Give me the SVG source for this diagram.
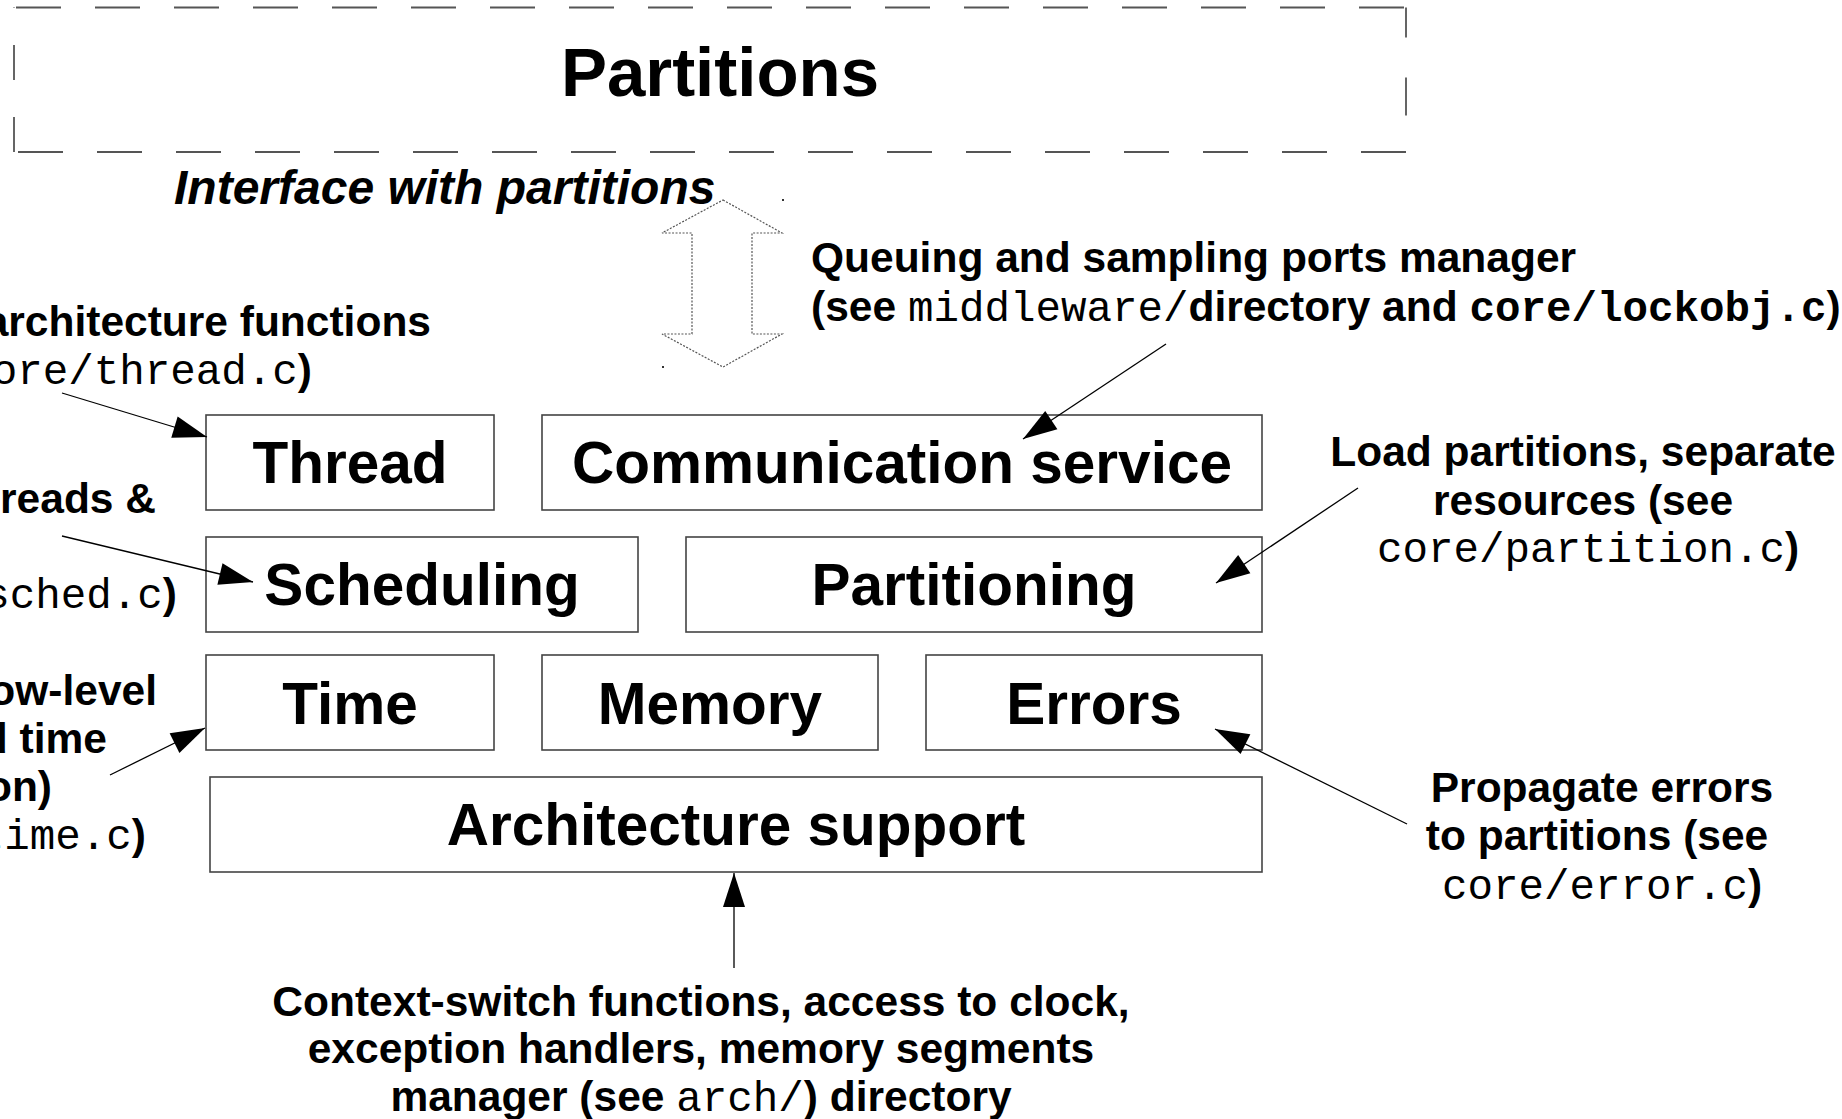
<svg xmlns="http://www.w3.org/2000/svg" width="1842" height="1119" viewBox="0 0 1842 1119">
  <style>
    .box { fill: #ffffff; stroke: #444444; stroke-width: 1.6; }
    .lbl { font-family: "Liberation Sans", Arial, sans-serif; font-weight: bold; font-size: 58.5px; fill: #000; text-anchor: middle; }
    .note { font-family: "Liberation Sans", Arial, sans-serif; font-weight: bold; font-size: 42.5px; fill: #000; }
    .mono { font-family: "Liberation Mono", "Courier New", monospace; font-weight: normal; }
    .monob { font-family: "Liberation Mono", "Courier New", monospace; font-weight: bold; }
    .dash { stroke: #555555; stroke-width: 1.8; fill: none; stroke-dasharray: 45 34; }
    .conn { stroke: #000; stroke-width: 1.3; fill: none; marker-end: url(#head); }
  </style>
  <defs>
    <marker id="head" markerUnits="userSpaceOnUse" markerWidth="36" markerHeight="22" refX="34" refY="11" orient="auto" overflow="visible">
      <path d="M0,0 L34,11 L0,22 z" fill="#000"/>
    </marker>
  </defs>
  <rect width="1842" height="1119" fill="#ffffff"/>

  <!-- partitions area (dashed frame) -->
  <g id="partitions">
    <line class="dash" x1="16" y1="7.5" x2="1406" y2="7.5"/>
    <line class="dash" x1="1406" y1="7.5" x2="1406" y2="152" style="stroke-dasharray:30 40 38 100"/>
    <line class="dash" x1="1406" y1="152" x2="14" y2="152"/>
    <line class="dash" x1="14" y1="152" x2="14" y2="7.5" style="stroke-dasharray:35 37"/>
    <text x="720" y="96" style="font-family:'Liberation Sans',Arial,sans-serif;font-weight:bold;font-size:69px;text-anchor:middle">Partitions</text>
  </g>

  <text id="interface-label" x="174" y="204" style="font-family:'Liberation Sans',Arial,sans-serif;font-weight:bold;font-style:italic;font-size:48px">Interface with partitions</text>

  <!-- kernel interface double arrow -->
  <g id="interface-arrow">
    <polygon points="723,200 782,233 752,233 752,334 782,334 723,367 662,334 692,334 692,233 662,233" fill="none" stroke="#555" stroke-width="1.2" stroke-dasharray="2 1.5"/>
    <rect x="782" y="199" width="2" height="2" fill="#333"/>
    <rect x="662" y="366" width="2" height="2" fill="#333"/>
  </g>

  <!-- kernel services -->
  <g id="thread">
    <rect class="box" x="206" y="415" width="288" height="95"/>
    <text class="lbl" x="350" y="483">Thread</text>
  </g>
  <g id="communication">
    <rect class="box" x="542" y="415" width="720" height="95"/>
    <text class="lbl" x="902" y="483">Communication service</text>
  </g>
  <g id="scheduling">
    <rect class="box" x="206" y="537" width="432" height="95"/>
    <text class="lbl" x="422" y="605">Scheduling</text>
  </g>
  <g id="partitioning">
    <rect class="box" x="686" y="537" width="576" height="95"/>
    <text class="lbl" x="974" y="605">Partitioning</text>
  </g>
  <g id="time">
    <rect class="box" x="206" y="655" width="288" height="95"/>
    <text class="lbl" x="350" y="724">Time</text>
  </g>
  <g id="memory">
    <rect class="box" x="542" y="655" width="336" height="95"/>
    <text class="lbl" x="710" y="724">Memory</text>
  </g>
  <g id="errors">
    <rect class="box" x="926" y="655" width="336" height="95"/>
    <text class="lbl" x="1094" y="724">Errors</text>
  </g>
  <g id="architecture">
    <rect class="box" x="210" y="777" width="1052" height="95"/>
    <text class="lbl" x="736" y="845">Architecture support</text>
  </g>

  <!-- annotations -->
  <g id="note-ports">
    <text class="note" x="811" y="272">Queuing and sampling ports manager</text>
    <text class="note" x="811" y="321">(see <tspan class="mono">middleware/</tspan>directory and <tspan class="monob">core/lockobj.c</tspan>)</text>
  </g>
  <g id="note-thread" style="text-anchor:end">
    <text class="note" x="431" y="336">architecture functions</text>
    <text class="note" x="312" y="384"><tspan class="mono">ore/thread.c</tspan>)</text>
  </g>
  <g id="note-sched" style="text-anchor:end">
    <text class="note" x="156" y="513">reads &amp;</text>
    <text class="note" x="177" y="608"><tspan class="mono">sched.c</tspan>)</text>
  </g>
  <g id="note-time" style="text-anchor:end">
    <text class="note" x="157" y="705">ow-level</text>
    <text class="note" x="107" y="753">d time</text>
    <text class="note" x="52" y="801">on)</text>
    <text class="note" x="146" y="849"><tspan class="mono">time.c</tspan>)</text>
  </g>
  <g id="note-partition" style="text-anchor:middle">
    <text class="note" x="1583" y="466">Load partitions, separate</text>
    <text class="note" x="1583" y="515">resources (see</text>
    <text class="note" x="1588" y="562"><tspan class="mono">core/partition.c</tspan>)</text>
  </g>
  <g id="note-errors" style="text-anchor:middle">
    <text class="note" x="1602" y="802">Propagate errors</text>
    <text class="note" x="1597" y="850">to partitions (see</text>
    <text class="note" x="1602" y="899"><tspan class="mono">core/error.c</tspan>)</text>
  </g>
  <g id="note-arch" style="text-anchor:middle">
    <text class="note" x="701" y="1016">Context-switch functions, access to clock,</text>
    <text class="note" x="701" y="1063">exception handlers, memory segments</text>
    <text class="note" x="701" y="1111">manager (see <tspan class="mono">arch/</tspan>) directory</text>
  </g>

  <!-- connectors -->
  <g id="connectors">
    <line class="conn" x1="62" y1="393" x2="207" y2="437"/>
    <line class="conn" x1="62" y1="536" x2="253" y2="582"/>
    <line class="conn" x1="110" y1="775" x2="205" y2="728"/>
    <line class="conn" x1="1166" y1="344" x2="1023" y2="439"/>
    <line class="conn" x1="1358" y1="488" x2="1216" y2="583"/>
    <line class="conn" x1="1407" y1="824" x2="1215" y2="729"/>
    <line class="conn" x1="734" y1="968" x2="734" y2="873"/>
  </g>
</svg>
